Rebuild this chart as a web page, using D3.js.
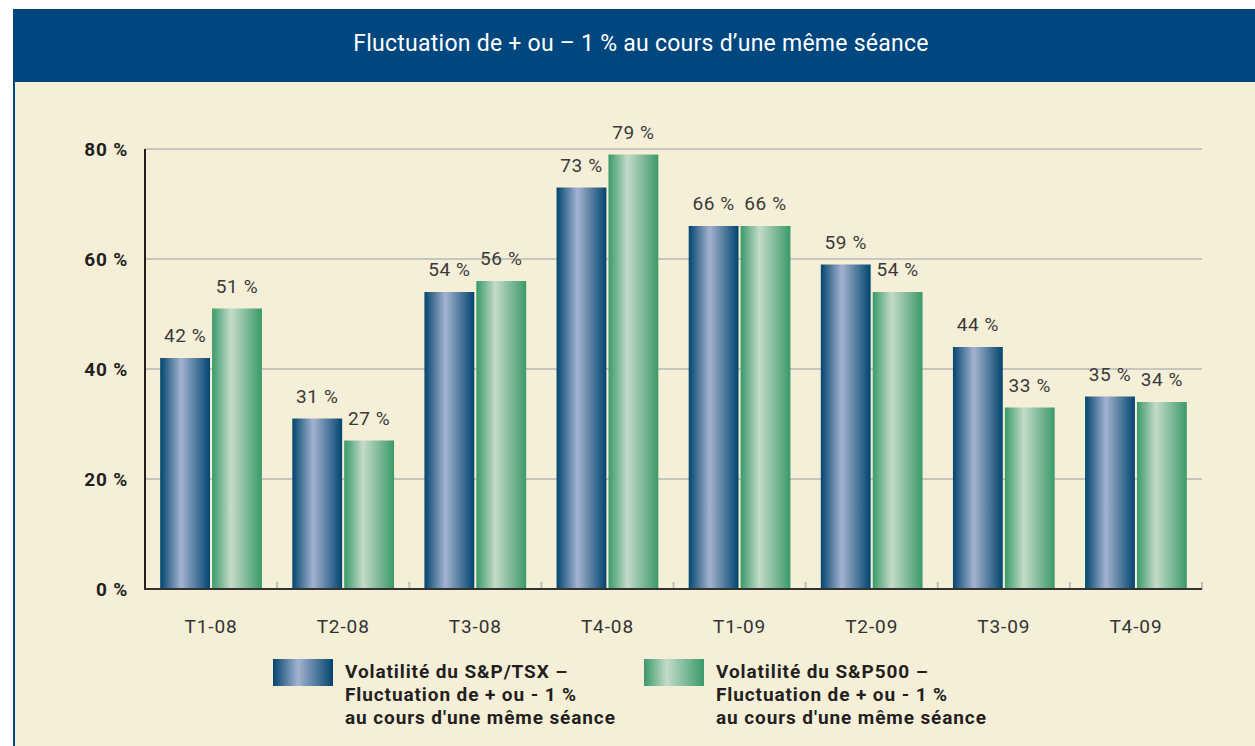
<!DOCTYPE html>
<html><head><meta charset="utf-8">
<script src="https://cdn.jsdelivr.net/npm/d3@7"></script>
<style>body{margin:0;background:#fff;}svg{display:block;}</style>
</head><body>
<svg id="c" width="1255" height="746"></svg>
<script>
const title = "Fluctuation de + ou – 1 % au cours d’une même séance";
const categories = ["T1-08","T2-08","T3-08","T4-08","T1-09","T2-09","T3-09","T4-09"];
const seriesNames = ["tsx","sp500"];
const tsxValues = [42,31,54,73,66,59,44,35];
const sp500Values = [51,27,56,79,66,54,33,34];
const yTicks = [0,20,40,60,80];
const legendLabels = [
  ["Volatilité du S&P/TSX –","Fluctuation de + ou - 1 %","au cours d'une même séance"],
  ["Volatilité du S&P500 –","Fluctuation de + ou - 1 %","au cours d'une même séance"]
];

const svg = d3.select("#c");
const defs = svg.append("defs");
function grad(id, edge, light, pos){
  const g = defs.append("linearGradient").attr("id",id).attr("x1","0").attr("x2","1").attr("y1","0").attr("y2","0");
  g.append("stop").attr("offset","0%").attr("stop-color",edge);
  g.append("stop").attr("offset",pos).attr("stop-color",light);
  g.append("stop").attr("offset","100%").attr("stop-color",edge);
}
grad("gBlue","#02456f","#a4b3cf","42%");
grad("gGreen","#3a9a68","#c4dbc9","38%");
const fills = {tsx:"url(#gBlue)", sp500:"url(#gGreen)"};
const FF = "Roboto, sans-serif";

// panel
svg.append("rect").attr("x",13).attr("y",82).attr("width",1242).attr("height",664).attr("fill","#f5efd8");
svg.append("rect").attr("x",13).attr("y",82).attr("width",2).attr("height",664).attr("fill","#00467f");
svg.append("rect").attr("x",13).attr("y",9).attr("width",1242).attr("height",73).attr("fill","#00467f");
svg.append("text").attr("x",641).attr("y",51).attr("text-anchor","middle")
  .attr("font-family",FF).attr("font-size",23).attr("fill","#fff")
  .attr("letter-spacing",0.25).text(title);

const pLeft=145, pRight=1202, pTop=149, pBottom=589;
const y = d3.scaleLinear().domain([0,80]).range([pBottom, pTop]);
const x0 = d3.scaleBand().domain(categories).range([pLeft,pRight]).paddingInner(0.23).paddingOuter(0.115);
const x1 = d3.scaleBand().domain(seriesNames).range([0,x0.bandwidth()]).paddingInner(0.04);

// gridlines
svg.append("g").selectAll("line").data(yTicks.filter(d=>d>0)).join("line")
  .attr("x1",pLeft).attr("x2",pRight).attr("y1",d=>y(d)).attr("y2",d=>y(d))
  .attr("stroke","#c6c6c0").attr("stroke-width",2);

// y labels
svg.append("g").selectAll("text").data(yTicks).join("text")
  .attr("x",128).attr("y",d=>y(d)+7).attr("text-anchor","end")
  .attr("font-family",FF).attr("font-weight","bold").attr("font-size",19).attr("letter-spacing",0.8).attr("fill","#231f20")
  .text(d=>d+" %");

// bars
const data = categories.map((c,i)=>({cat:c, vals:[{s:"tsx",v:tsxValues[i]},{s:"sp500",v:sp500Values[i]}]}));
const grp = svg.append("g").selectAll("g").data(data).join("g").attr("transform",d=>`translate(${x0(d.cat)},0)`);
grp.selectAll("rect").data(d=>d.vals).join("rect")
  .attr("x",d=>x1(d.s)).attr("width",x1.bandwidth())
  .attr("y",d=>y(d.v)).attr("height",d=>pBottom-y(d.v)).attr("fill",d=>fills[d.s]);
grp.selectAll("text").data(d=>d.vals).join("text")
  .attr("x",d=>x1(d.s)+x1.bandwidth()/2).attr("y",d=>y(d.v)-16).attr("text-anchor","middle")
  .attr("font-family",FF).attr("font-size",19).attr("letter-spacing",0.6).attr("fill","#3a3a3a")
  .text(d=>d.v+" %");

// category ticks
const bounds = categories.map(c=>x0(c)+x0.bandwidth()/2+x0.step()/2);
svg.append("g").selectAll("line").data(bounds).join("line")
  .attr("x1",d=>d).attr("x2",d=>d).attr("y1",pBottom-7).attr("y2",pBottom)
  .attr("stroke","#bdbdbd").attr("stroke-width",2);

// axes
svg.append("line").attr("x1",pLeft).attr("x2",pLeft).attr("y1",pTop).attr("y2",pBottom+1).attr("stroke","#231f20").attr("stroke-width",2);
svg.append("line").attr("x1",pLeft-1).attr("x2",pRight).attr("y1",pBottom).attr("y2",pBottom).attr("stroke","#333").attr("stroke-width",2);

// x labels
svg.append("g").selectAll("text").data(categories).join("text")
  .attr("x",d=>x0(d)+x0.bandwidth()/2).attr("y",633).attr("text-anchor","middle")
  .attr("font-family",FF).attr("font-size",19).attr("letter-spacing",0.9).attr("fill","#333")
  .text(d=>d);

// legend
const legX = [273, 644];
seriesNames.forEach((s,i)=>{
  const g = svg.append("g");
  g.append("rect").attr("x",legX[i]).attr("y",659).attr("width",60).attr("height",27).attr("fill",fills[s]);
  g.append("text").attr("font-family",FF).attr("font-weight","bold").attr("font-size",19).attr("letter-spacing",0.9).attr("fill","#231f20")
    .selectAll("tspan").data(legendLabels[i]).join("tspan")
    .attr("x",legX[i]+72).attr("y",(d,j)=>678+j*23).text(d=>d);
});
</script>
</body></html>
